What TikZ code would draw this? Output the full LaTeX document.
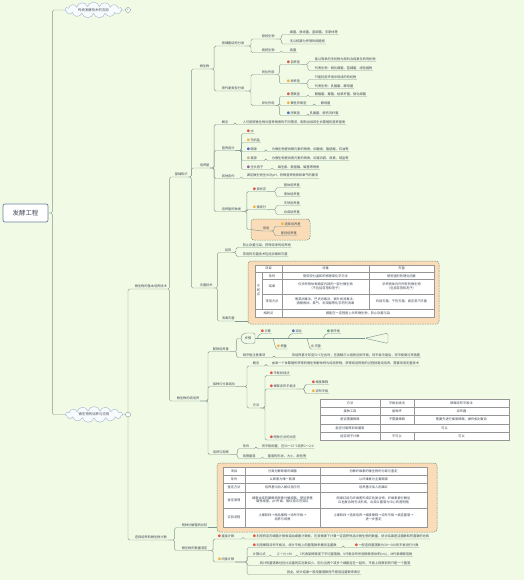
\documentclass[tikz,border=0pt]{standalone}
\usepackage{fontspec}
\setmainfont{Noto Sans CJK SC}
\usepackage{tikz}
\usetikzlibrary{shapes.symbols, positioning}

\definecolor{bg}{RGB}{241,250,229}
\definecolor{wirec}{RGB}{128,152,146}
\definecolor{txt}{RGB}{64,74,86}
\definecolor{rootc}{RGB}{110,130,160}
\definecolor{cloudln}{RGB}{160,180,205}
\definecolor{cloudfl}{RGB}{248,251,253}
\definecolor{orng}{RGB}{250,221,184}
\definecolor{boxln}{RGB}{125,145,125}
\definecolor{tabln}{RGB}{150,150,150}
\definecolor{dred}{RGB}{226,86,64}
\definecolor{dyel}{RGB}{243,178,62}
\definecolor{dblu}{RGB}{72,112,196}
\definecolor{dgry}{RGB}{190,175,150}
\definecolor{dpur}{RGB}{150,90,170}
\definecolor{dgrn}{RGB}{90,170,110}

\newcommand\fs{\fontsize{3.2}{3.9}\selectfont}
\newcommand\dotc[1]{\textcolor{#1}{●}\hspace{0.5pt}}
\newcommand\lnk[3][3]{\draw[wire] (#2.south east) -- ++(#1,0) |- (#3.south west) -- (#3.south east);}

\begin{document}
\begin{tikzpicture}[x=1pt,y=-1pt,
    wire/.style={draw=wirec, line width=0.45pt, rounded corners=1.5pt},
    lbl/.style={font=\fs, text=txt, inner sep=0.6pt, anchor=south west},
    cell/.style={font=\fs, text=txt, inner sep=0pt, align=center},
    fold/.style={circle, draw=wirec, fill=white, inner sep=0pt, minimum size=5pt, font=\fontsize{4}{4}\selectfont, text=wirec},
    topic/.style={cloud, cloud puffs=15, aspect=5, draw=cloudln, fill=cloudfl, font=\fontsize{3.4}{4}\selectfont, text=txt, inner sep=0.5pt, minimum width=57pt, minimum height=11pt},
    obox/.style={draw=boxln, fill=orng, dash pattern=on 1.6pt off 0.9pt, rounded corners=3pt, line width=0.5pt, inner sep=0pt},
    grid/.style={draw=tabln, line width=0.35pt}]
    \fill[bg] (0,0) rectangle (524,580);
    \useasboundingbox (0,0) rectangle (524,580);

    \node[draw=rootc, fill=white, line width=0.7pt, rounded corners=2pt, minimum width=45pt, minimum height=18pt, font=\fontsize{6.4}{7}\selectfont, text=txt] (root) at (25.5,213) {发酵工程};
    \node[topic] (trad) at (93.5,10) {传统发酵技术的应用};
    \node[fold] (fold1) at (128,10) {+};
    \node[topic] (micro) at (94,414.5) {微生物的培养与应用};
    \node[fold] (fold2) at (128,414.5) {-};
    \draw[wire] (root.east) -- ++(4,0) |- (trad.west);
    \draw[wire] (root.east) -- ++(4,0) |- (micro.west);
    \draw[wire] (trad.east) -- (fold1.west);
    \draw[wire] (micro.east) -- (fold2.west);

    \node[lbl] (A) at (134,289) {微生物的基本培养技术};
    \node[lbl] (B) at (134,540) {选择培养和微生物计数};
    \draw[wire] (fold2.north) |- (A.south west) -- (A.south east);
    \draw[wire] (fold2.south) |- (B.south west) -- (B.south east);

    \node[lbl] (A1) at (174,177) {基础知识};
    \node[lbl] (A2) at (176,401) {微生物的纯培养};
    \lnk[2]{A}{A1} \lnk[2]{A}{A2}
    \node[lbl] (A1a) at (199,69) {微生物};
    \node[lbl] (A1b) at (199,168) {培养基};
    \node[lbl] (A1c) at (199,288) {无菌技术};
    \lnk{A1}{A1a} \lnk{A1}{A1b} \lnk{A1}{A1c}

    \node[lbl] (struct) at (221,46) {按细胞结构分类};
    \node[lbl] (metab) at (221,91) {按代谢类型分类};
    \lnk[4]{A1a}{struct} \lnk[4]{A1a}{metab}
    \node[lbl] (pro) at (261,39) {原核生物};
    \node[lbl] (euk) at (261,52.5) {真核生物};
    \lnk[6]{struct}{pro} \lnk[6]{struct}{euk}
    \node[lbl] (pro1) at (289,34.5) {细菌、放线菌、蓝细菌、支原体等};
    \node[lbl] (pro2) at (289,44) {无以核膜为界限的细胞核};
    \node[lbl] (euk1) at (289,52.5) {真菌};
    \lnk[6]{pro}{pro1} \lnk[6]{pro}{pro2} \lnk[6]{euk}{euk1}
    \node[lbl] (assim) at (261,74.5) {同化作用};
    \node[lbl] (dissim) at (261,105.5) {异化作用};
    \lnk[6]{metab}{assim} \lnk[6]{metab}{dissim}
    \node[lbl] (auto) at (286,64.5) {\dotc{dred}自养型};
    \node[lbl] (hetero) at (286,83.5) {\dotc{dyel}异养型};
    \lnk[4]{assim}{auto} \lnk[4]{assim}{hetero}
    \node[lbl] (auto1) at (314,61.5) {能以简单的无机物为原料合成复杂的有机物};
    \node[lbl] (auto2) at (314,70.5) {代表生物：硝化细菌、蓝细菌、绿色植物};
    \node[lbl] (het1) at (314,79.5) {只能利用环境中现成的有机物};
    \node[lbl] (het2) at (314,88.5) {代表生物：乳酸菌、酵母菌};
    \lnk[7]{auto}{auto1} \lnk[7]{auto}{auto2} \lnk[7]{hetero}{het1} \lnk[7]{hetero}{het2}
    \node[lbl] (aer) at (286,96.5) {\dotc{dred}需氧型};
    \node[lbl] (fac) at (286,105.5) {\dotc{dyel}兼性厌氧型};
    \node[lbl] (ana) at (286,115.5) {\dotc{dblu}厌氧型};
    \lnk[4]{dissim}{aer} \lnk[4]{dissim}{fac} \lnk[4]{dissim}{ana}
    \node[lbl] (aer1) at (314,96.5) {醋酸菌、霉菌、枯草杆菌、硝化细菌};
    \node[lbl] (fac1) at (320,105.5) {酵母菌};
    \node[lbl] (ana1) at (309,115.5) {乳酸菌、破伤风杆菌};
    \lnk[7]{aer}{aer1} \lnk[7]{fac}{fac1} \lnk[7]{ana}{ana1}

    \node[lbl] (cpt) at (221,124.5) {概念};
    \node[lbl] (nut) at (221,150.5) {营养成分};
    \node[lbl] (oth) at (221,178.5) {其他条件};
    \node[lbl] (kind) at (221,211.5) {培养基的种类};
    \lnk[4]{A1b}{cpt} \lnk[4]{A1b}{nut} \lnk[4]{A1b}{oth} \lnk[4]{A1b}{kind}
    \node[lbl] (cpt1) at (242,124.5) {人们按照微生物对营养物质的不同需求，配制出供其生长繁殖的营养基质};
    \node[lbl] (oth1) at (246,178.5) {满足微生物生长对pH、特殊营养物质和氧气的要求};
    \lnk[6]{cpt}{cpt1} \lnk[6]{oth}{oth1}
    \node[lbl] (water) at (246,133.5) {\dotc{dred}水};
    \node[lbl] (salt) at (246,142.5) {\dotc{dyel}无机盐};
    \node[lbl] (cs) at (246,151.5) {\dotc{dblu}碳源};
    \node[lbl] (ns) at (246,160.5) {\dotc{dgry}氮源};
    \node[lbl] (gf) at (246,169.5) {\dotc{dpur}生长因子};
    \lnk[6]{nut}{water} \lnk[6]{nut}{salt} \lnk[6]{nut}{cs} \lnk[6]{nut}{ns} \lnk[6]{nut}{gf}
    \node[lbl] (cs1) at (271,151.5) {为微生物提供碳元素的物质，如糖类、脂肪酸、石油等};
    \node[lbl] (ns1) at (271,160.5) {为微生物提供氮元素的物质，如蛋白胨、尿素、铵盐等};
    \node[lbl] (gf1) at (277,169.5) {维生素、氨基酸、碱基等物质};
    \lnk[8]{cs}{cs1} \lnk[8]{ns}{ns1} \lnk[8]{gf}{gf1}
    \node[lbl] (phys) at (252,191.5) {\dotc{dred}按状态};
    \node[lbl] (chem) at (252,209.5) {\dotc{dyel}按成分};
    \node[obox, minimum width=59pt, minimum height=21pt] (box3) at (280.5,229.5) {};
    \lnk[5]{kind}{phys} \lnk[5]{kind}{chem}
    \draw[wire] (kind.south east) -- ++(5,0) |- (box3.west);
    \node[lbl] (solid) at (283,187.5) {固体培养基};
    \node[lbl] (liquid) at (283,196.5) {液体培养基};
    \node[lbl] (natural) at (283,205.5) {天然培养基};
    \node[lbl] (synth) at (283,214.5) {合成培养基};
    \lnk[9]{phys}{solid} \lnk[9]{phys}{liquid} \lnk[9]{chem}{natural} \lnk[9]{chem}{synth}
    \node[lbl] (use) at (262,231) {用途};
    \node[lbl] (sel) at (280,226.5) {\dotc{dyel}选择培养基};
    \node[lbl] (idn) at (280,235.5) {鉴别培养基};
    \draw[wire] (box3.west) -- (use.south west) -- (use.south east);
    \lnk[4]{use}{sel} \lnk[4]{use}{idn}

    \node[lbl] (aim) at (224,252.5) {目的};
    \node[lbl] (dis) at (221,321) {消毒灭菌};
    \lnk[4]{A1c}{aim} \lnk[4]{A1c}{dis}
    \node[lbl] (aim1) at (242,247.5) {防止杂菌污染，获得纯净的培养物};
    \node[lbl] (aim2) at (242,256.5) {常用的无菌技术包括消毒和灭菌};
    \lnk[4]{aim}{aim1} \lnk[4]{aim}{aim2}
    \node[obox, minimum width=191pt, minimum height=63pt] (box1) at (343.5,292.5) {};
    \draw[wire] (dis.south east) -- (dis.south east -| box1.west);
    \fill[white] (255,265) rectangle (434,317);
    \draw[grid] (255,265) rectangle (434,317);
    \draw[grid] (255,272.5) -- (434,272.5) (262,279.5) -- (434,279.5) (262,294) -- (434,294) (255,309) -- (434,309);
    \draw[grid] (262,272.5) -- (262,309) (282,265) -- (282,317) (369,265) -- (369,309);
    \node[cell] (ta11) at (268.5,268.75) {项目};
    \node[cell] (ta12) at (325.5,268.75) {消毒};
    \node[cell] (ta13) at (401.5,268.75) {灭菌};
    \node[cell] (ta20) at (258.5,290.75) {不\\同\\点};
    \node[cell] (ta21) at (272,276) {条件};
    \node[cell] (ta22) at (325.5,276) {使用较为温和的物理或化学方法};
    \node[cell] (ta23) at (401.5,276) {使用强烈的理化因素};
    \node[cell] (ta31) at (272,286.75) {结果};
    \node[cell] (ta32) at (325.5,286.75) {仅杀死物体表面或内部的一部分微生物\\（不包括芽孢和孢子）};
    \node[cell] (ta33) at (401.5,286.75) {杀死物体内外所有的微生物\\（包括芽孢和孢子）};
    \node[cell] (ta41) at (272,301.5) {常用方法};
    \node[cell] (ta42) at (325.5,301.5) {煮沸消毒法、巴氏消毒法、紫外线消毒法、\\酒精擦拭、氯气、石炭酸等化学药剂消毒};
    \node[cell] (ta43) at (401.5,301.5) {灼烧灭菌、干热灭菌、高压蒸汽灭菌};
    \node[cell] (ta51) at (268.5,313) {相同点};
    \node[cell] (ta52) at (358,313) {都能在一定程度上杀死微生物，防止杂菌污染};

    \node[lbl] (prep) at (212,351.5) {配制培养基};
    \node[lbl] (inoc) at (212,386.5) {接种与分离纯化};
    \node[lbl] (cult) at (212,454.5) {培养与观察};
    \lnk[8]{A2}{prep} \lnk[8]{A2}{inoc} \lnk[8]{A2}{cult}
    \node[cell, minimum width=14pt, minimum height=10.5pt] (head) at (248,338.25) {步骤};
    \coordinate (tail) at (365,338.25);
    \draw[wire] (255,333) -- (246,333) .. controls (240,334) and (240,342.5) .. (246,343.5) -- (255,343.5) -- cycle;
    \draw[wire] (head.east) -- (tail);
    \draw[wire] (tail) -- (388,333) -- (388,343.5) -- cycle;
    \draw[wire] (prep.south east) -- ++(7,0) |- (head.west);
    \node[lbl] (s1) at (260,333.5) {\dotc{dred}计算};
    \node[lbl] (s2) at (276,349) {\dotc{dyel}称量};
    \node[lbl] (s3) at (291,333.5) {\dotc{dblu}溶化};
    \node[lbl] (s4) at (310,349) {\dotc{dgry}灭菌};
    \node[lbl] (s5) at (326,333.5) {\dotc{dgrn}倒平板};
    \draw[wire] (257,338.25) -- (s1.south west) -- (s1.south east);
    \draw[wire] (273,338.25) -- (s2.south west) -- (s2.south east);
    \draw[wire] (288,338.25) -- (s3.south west) -- (s3.south east);
    \draw[wire] (307,338.25) -- (s4.south west) -- (s4.south east);
    \draw[wire] (323,338.25) -- (s5.south west) -- (s5.south east);
    \node[lbl] (note) at (242,357.5) {倒平板注意事项};
    \node[lbl] (note1) at (291,357.5) {待培养基冷却至50℃左右时，在酒精灯火焰附近倒平板，待平板冷凝后，将平板倒过来放置};
    \draw[wire] (prep.south east) -- ++(7,0) |- (note.south west) -- (note.south east);
    \lnk[8]{note}{note1}

    \node[lbl] (defn) at (252,366) {概念};
    \node[lbl] (meth) at (252,408) {方法};
    \lnk[11]{inoc}{defn} \lnk[11]{inoc}{meth}
    \node[lbl] (defn1) at (271,366) {由单一个体繁殖所获得的微生物群体称为纯培养物，获得纯培养物的过程就是纯培养，需要采用无菌技术};
    \lnk[6]{defn}{defn1}
    \node[lbl] (streak) at (269,375.5) {\dotc{dred}平板划线法};
    \node[lbl] (spread) at (269,389) {\dotc{dred}稀释涂布平板法};
    \node[lbl] (comp) at (269,440) {\dotc{dred}两种方法的比较};
    \lnk[5]{meth}{streak} \lnk[5]{meth}{spread} \lnk[5]{meth}{comp}
    \node[lbl] (dil) at (311,384.5) {\dotc{dred}梯度稀释};
    \node[lbl] (coat) at (311,393.5) {\dotc{dyel}涂布平板};
    \lnk[8]{spread}{dil} \lnk[8]{spread}{coat}
    \fill[white] (320,399) rectangle (509,440.5);
    \draw[grid] (320,399) rectangle (509,440.5);
    \draw[grid] (320,407.3) -- (509,407.3) (320,415.6) -- (509,415.6) (320,423.9) -- (509,423.9) (320,432.2) -- (509,432.2);
    \draw[grid] (380,399) -- (380,440.5) (414,399) -- (414,423.9) (414,432.2) -- (414,440.5);
    \node[cell] (tb11) at (350,403.15) {方法};
    \node[cell] (tb12) at (397,403.15) {平板划线法};
    \node[cell] (tb13) at (461.5,403.15) {稀释涂布平板法};
    \node[cell] (tb21) at (350,411.45) {接种工具};
    \node[cell] (tb22) at (397,411.45) {接种环};
    \node[cell] (tb23) at (461.5,411.45) {涂布器};
    \node[cell] (tb31) at (350,419.75) {是否需要稀释};
    \node[cell] (tb32) at (397,419.75) {不需要稀释};
    \node[cell] (tb33) at (461.5,419.75) {需要先进行梯度稀释，操作相对复杂};
    \node[cell] (tb41) at (350,428.05) {能否分离得到单菌落};
    \node[cell] (tb42) at (444.5,428.05) {可以};
    \node[cell] (tb51) at (350,436.35) {能否用于计数};
    \node[cell] (tb52) at (397,436.35) {不可以};
    \node[cell] (tb53) at (461.5,436.35) {可以};

    \node[lbl] (cond) at (242,448.5) {条件};
    \node[lbl] (obs) at (242,458.5) {观察菌落};
    \lnk[8]{cult}{cond} \lnk[8]{cult}{obs}
    \node[lbl] (cond1) at (261,448.5) {将平板倒置，在30～37℃培养1～2 d};
    \node[lbl] (obs1) at (267,458.5) {菌落的形状、大小、颜色等};
    \lnk[6]{cond}{cond1} \lnk[6]{obs}{obs1}

    \node[lbl] (B1) at (181,527.5) {两种分解菌的比较};
    \node[lbl] (B2) at (181,550.5) {微生物的数量测定};
    \lnk[7]{B}{B1} \lnk[7]{B}{B2}
    \node[obox, minimum width=220pt, minimum height=69pt] (box2) at (327,497.5) {};
    \draw[wire] (B1.south east) -- (B1.south east -| box2.west);
    \fill[white] (223,467) rectangle (427,527);
    \draw[grid] (223,467) rectangle (427,527);
    \draw[grid] (223,475) -- (427,475) (223,483) -- (427,483) (223,492) -- (427,492) (223,508) -- (427,508);
    \draw[grid] (245,467) -- (245,527) (320,467) -- (320,527);
    \node[cell] (tc11) at (234,471) {项目};
    \node[cell] (tc12) at (282.5,471) {分离分解尿素的细菌};
    \node[cell] (tc13) at (373.5,471) {分解纤维素的微生物的分离与鉴定};
    \node[cell] (tc21) at (234,479) {条件};
    \node[cell] (tc22) at (282.5,479) {以尿素为唯一氮源};
    \node[cell] (tc23) at (373.5,479) {以纤维素为主要碳源};
    \node[cell] (tc31) at (234,487.5) {鉴定方法};
    \node[cell] (tc32) at (282.5,487.5) {培养基中加入酚红指示剂};
    \node[cell] (tc33) at (373.5,487.5) {培养基中加入刚果红};
    \node[cell] (tc41) at (234,500) {鉴定原理};
    \node[cell] (tc42) at (282.5,500) {细菌合成的脲酶将尿素分解成氨，使培养基\\碱性增强，pH升高，酚红指示剂变红};
    \node[cell] (tc43) at (373.5,500) {刚果红能与纤维素形成红色复合物，纤维素被分解后\\红色复合物无法形成，出现以菌落为中心的透明圈};
    \node[cell] (tc51) at (234,517.5) {实验流程};
    \node[cell] (tc52) at (282.5,517.5) {土壤取样→样品稀释→涂布平板→\\培养与观察};
    \node[cell] (tc53) at (373.5,517.5) {土壤取样→选择培养→梯度稀释→涂布平板→挑选菌落→\\进一步鉴定};

    \node[lbl] (direct) at (217,539) {\dotc{dred}直接计数};
    \node[lbl] (indir) at (217,562) {\dotc{dyel}间接计数};
    \lnk[5]{B2}{direct} \lnk[5]{B2}{indir}
    \node[lbl] (direct1) at (252,539) {\dotc{dred}利用特定的细菌计数板或血细胞计数板，在显微镜下计算一定容积样品中微生物的数量，统计结果是活菌数和死菌数的总和};
    \lnk[8]{direct}{direct1}
    \node[lbl] (ind1) at (252,547.5) {\dotc{dred}利用稀释涂布平板法，统计平板上的菌落数来推测活菌数};
    \node[lbl] (ind2) at (252,556.5) {计算公式};
    \node[lbl] (ind3) at (259,565.5) {统计的菌落数往往比活菌的实际数目少，因为当两个或多个细胞连在一起时，平板上观察到的只是一个菌落};
    \node[lbl] (ind4) at (286,574.5) {因此，统计结果一般用菌落数而不是用活菌数来表示};
    \lnk[12]{indir}{ind1} \lnk[12]{indir}{ind2} \lnk[12]{indir}{ind3} \lnk[12]{indir}{ind4}
    \node[lbl] (ind1b) at (354,547.5) {\dotc{dred}一般选择菌落数为30～300的平板进行计数};
    \node[lbl] (ind2b) at (276,556.5) {(C÷V)×M};
    \node[lbl] (ind2c) at (299,556.5) {C代表某稀释度下平均菌落数，V代表涂布所用稀释液体积(mL)，M代表稀释倍数};
    \lnk[6]{ind1}{ind1b} \lnk[4]{ind2}{ind2b} \lnk[4]{ind2b}{ind2c}
\end{tikzpicture}
\end{document}
